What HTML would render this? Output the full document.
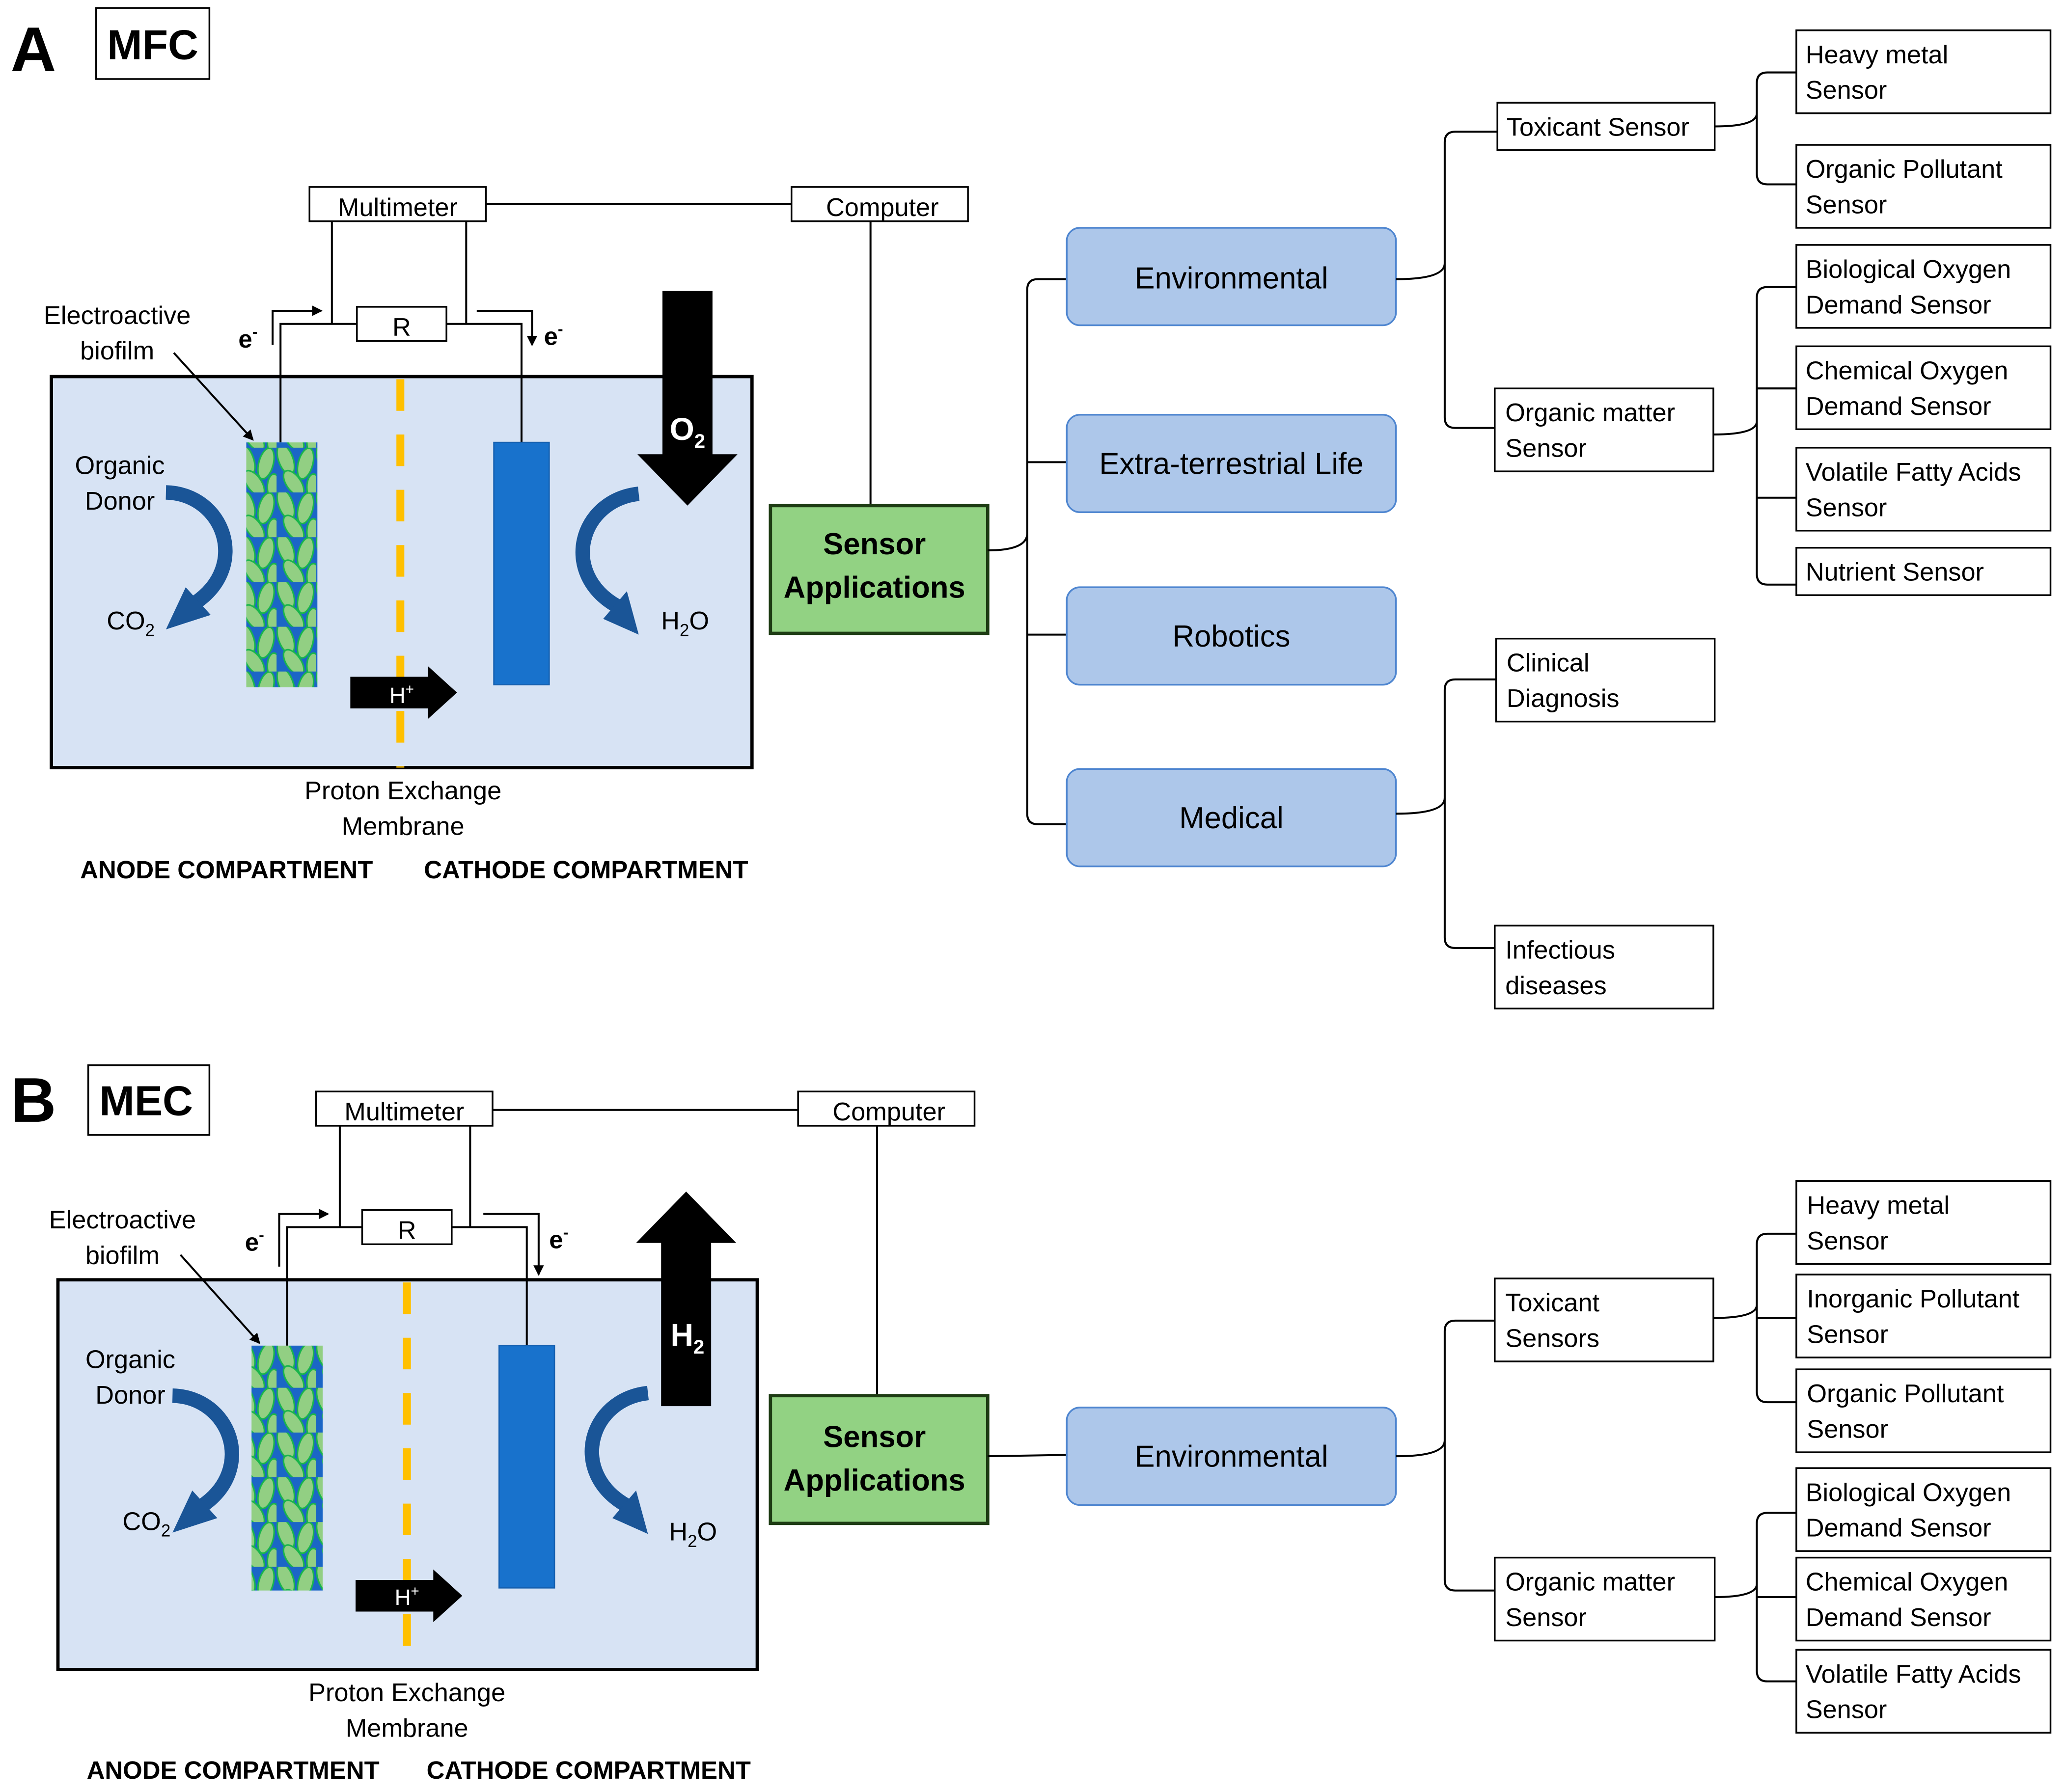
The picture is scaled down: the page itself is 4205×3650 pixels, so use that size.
<!DOCTYPE html>
<html><head><meta charset="utf-8"><style>
html,body{margin:0;padding:0;background:#fff}
svg{display:block}
text{font-family:"Liberation Sans",sans-serif;fill:#000}
.bx{fill:#fff;stroke:#000;stroke-width:1.3}
.ln{fill:none;stroke:#000;stroke-width:1.5}
.t{font-size:19.5px}
.bl{fill:#adc7ea;stroke:#4f86d0;stroke-width:1.3}
</style></head><body>
<svg width="4205" height="3650" viewBox="0 0 1568 1361" xmlns="http://www.w3.org/2000/svg">
<defs>
<pattern id="bio" width="30" height="34" patternUnits="userSpaceOnUse">
<rect width="30" height="34" fill="#1b66c6"/>
<ellipse cx="7" cy="9" rx="5.5" ry="12" transform="rotate(-20 7 9)" fill="#92cf83" stroke="#19b54b" stroke-width="1.2"/>
<ellipse cx="22" cy="12" rx="5.5" ry="12" transform="rotate(15 22 12)" fill="#92cf83" stroke="#19b54b" stroke-width="1.2"/>
<ellipse cx="13" cy="27" rx="5.5" ry="11" transform="rotate(-35 13 27)" fill="#92cf83" stroke="#19b54b" stroke-width="1.2"/>
<ellipse cx="28" cy="30" rx="5" ry="10" fill="#92cf83" stroke="#19b54b" stroke-width="1.2"/>
</pattern>
<marker id="ah" markerWidth="8" markerHeight="8" refX="7" refY="4" orient="auto" markerUnits="userSpaceOnUse"><path d="M0,0 L8,4 L0,8z" fill="#000"/></marker>
</defs>

<!-- ============ PART A ============ -->
<text x="8" y="54" font-size="48" font-weight="bold">A</text>
<rect x="73" y="6" width="86" height="54" class="bx"/>
<text x="116" y="45" font-size="32" font-weight="bold" text-anchor="middle">MFC</text>

<line x1="369" y1="155" x2="601" y2="155" class="ln" stroke-width="2.5"/>
<line x1="661" y1="168" x2="661" y2="384" class="ln" stroke-width="2.5"/>
<rect x="235" y="142" width="134" height="26" class="bx" stroke-width="2.5"/>
<text x="302" y="164" class="t" text-anchor="middle">Multimeter</text>
<rect x="601" y="142" width="134" height="26" class="bx" stroke-width="2.5"/>
<text x="670" y="164" class="t" text-anchor="middle">Computer</text>

<rect x="39" y="286" width="532" height="297" fill="#d7e3f4" stroke="#000" stroke-width="2.5"/>
<line x1="304" y1="288" x2="304" y2="583" stroke="#ffc000" stroke-width="6" stroke-dasharray="24,18"/>
<polyline points="252,168 252,246" class="ln" stroke-width="2.5"/>
<polyline points="354,168 354,246" class="ln" stroke-width="2.5"/>
<polyline points="213,336 213,246 396,246 396,336" class="ln" stroke-width="2.5"/>
<rect x="271" y="233" width="68" height="26" class="bx" stroke-width="2.5"/>
<text x="305" y="255" class="t" text-anchor="middle">R</text>
<polyline points="207,262 207,236 244,236" class="ln" stroke-width="1" marker-end="url(#ah)"/>
<polyline points="362,236 404,236 404,262" class="ln" stroke-width="1" marker-end="url(#ah)"/>
<text x="181" y="264" font-size="19" font-weight="bold">e<tspan font-size="12" dy="-8">-</tspan></text>
<text x="413" y="262" font-size="19" font-weight="bold">e<tspan font-size="12" dy="-8">-</tspan></text>

<rect x="187" y="336" width="54" height="186" fill="url(#bio)"/>
<rect x="375" y="336" width="42" height="184" fill="#1872cc" stroke="#1560b0"/>
<polygon points="503,221 541,221 541,345 560,345 522,384 484,345 503,345" fill="#000"/>
<text x="522" y="334" font-size="24" font-weight="bold" style="fill:#fff" text-anchor="middle">O<tspan font-size="15" dy="6">2</tspan></text>
<polygon points="266,514 325,514 325,506 347,526 325,546 325,538 266,538" fill="#000"/>
<text x="305" y="534" font-size="17" style="fill:#fff" text-anchor="middle">H<tspan font-size="11" dy="-7">+</tspan></text>

<path d="M126,374 C170,375 190,430 148,458" fill="none" stroke="#1a5597" stroke-width="11"/>
<polygon points="141,446 160,467 126,478" fill="#1a5597"/>
<path d="M485,375 C440,380 425,435 468,460" fill="none" stroke="#1a5597" stroke-width="11"/>
<polygon points="458,470 476,449 485,482" fill="#1a5597"/>

<text x="89" y="246" class="t" text-anchor="middle">Electroactive</text>
<text x="89" y="273" class="t" text-anchor="middle">biofilm</text>
<line x1="132" y1="268" x2="192" y2="334" class="ln" stroke-width="1" marker-end="url(#ah)"/>
<text x="91" y="360" class="t" text-anchor="middle">Organic</text>
<text x="91" y="387" class="t" text-anchor="middle">Donor</text>
<text x="81" y="478" class="t">CO<tspan font-size="13" dy="5">2</tspan></text>
<text x="502" y="478" class="t">H<tspan font-size="13" dy="5">2</tspan><tspan dy="-5">O</tspan></text>
<text x="306" y="607" class="t" text-anchor="middle">Proton Exchange</text>
<text x="306" y="634" class="t" text-anchor="middle">Membrane</text>
<text x="172" y="667" font-size="19" font-weight="bold" text-anchor="middle">ANODE COMPARTMENT</text>
<text x="445" y="667" font-size="19" font-weight="bold" text-anchor="middle">CATHODE COMPARTMENT</text>

<rect x="585" y="384" width="165" height="97" fill="#92d283" stroke="#1e3c14" stroke-width="2.5"/>
<text x="664" y="421" font-size="23" font-weight="bold" text-anchor="middle">Sensor</text>
<text x="664" y="454" font-size="23" font-weight="bold" text-anchor="middle">Applications</text>

<path d="M750,418 Q780,418 780,405 M810,212 L788,212 Q780,212 780,220 L780,618 Q780,626 788,626 L810,626 M780,351 L810,351 M780,482 L810,482" class="ln"/>

<rect x="810" y="173" width="250" height="74" rx="10" class="bl"/>
<text x="935" y="219" font-size="23" text-anchor="middle">Environmental</text>
<rect x="810" y="315" width="250" height="74" rx="10" class="bl"/>
<text x="935" y="360" font-size="23" text-anchor="middle">Extra-terrestrial Life</text>
<rect x="810" y="446" width="250" height="74" rx="10" class="bl"/>
<text x="935" y="491" font-size="23" text-anchor="middle">Robotics</text>
<rect x="810" y="584" width="250" height="74" rx="10" class="bl"/>
<text x="935" y="629" font-size="23" text-anchor="middle">Medical</text>

<path d="M1060,212 Q1097,212 1097,200 M1137,100 L1105,100 Q1097,100 1097,108 L1097,317 Q1097,325 1105,325 L1135,325" class="ln"/>
<path d="M1060,618 Q1097,618 1097,606 M1136,516 L1105,516 Q1097,516 1097,524 L1097,712 Q1097,720 1105,720 L1135,720" class="ln"/>
<path d="M1302,96 Q1334,96 1334,86 M1364,55 L1342,55 Q1334,55 1334,63 L1334,132 Q1334,140 1342,140 L1364,140" class="ln"/>
<path d="M1301,330 Q1334,330 1334,320 M1364,218 L1342,218 Q1334,218 1334,226 L1334,436 Q1334,444 1342,444 L1364,444 M1334,295 L1364,295 M1334,378 L1364,378" class="ln"/>

<rect x="1137" y="78" width="165" height="36" class="bx"/><text x="1144" y="103" class="t">Toxicant Sensor</text>
<rect x="1135" y="295" width="166" height="63" class="bx"/><text x="1143" y="320" class="t">Organic matter</text><text x="1143" y="347" class="t">Sensor</text>
<rect x="1136" y="485" width="166" height="63" class="bx"/><text x="1144" y="510" class="t">Clinical</text><text x="1144" y="537" class="t">Diagnosis</text>
<rect x="1135" y="703" width="166" height="63" class="bx"/><text x="1143" y="728" class="t">Infectious</text><text x="1143" y="755" class="t">diseases</text>

<rect x="1364" y="23" width="193" height="63" class="bx"/><text x="1371" y="48" class="t">Heavy metal</text><text x="1371" y="75" class="t">Sensor</text>
<rect x="1364" y="110" width="193" height="63" class="bx"/><text x="1371" y="135" class="t">Organic Pollutant</text><text x="1371" y="162" class="t">Sensor</text>
<rect x="1364" y="186" width="193" height="63" class="bx"/><text x="1371" y="211" class="t">Biological Oxygen</text><text x="1371" y="238" class="t">Demand Sensor</text>
<rect x="1364" y="263" width="193" height="63" class="bx"/><text x="1371" y="288" class="t">Chemical Oxygen</text><text x="1371" y="315" class="t">Demand Sensor</text>
<rect x="1364" y="340" width="193" height="63" class="bx"/><text x="1371" y="365" class="t">Volatile Fatty Acids</text><text x="1371" y="392" class="t">Sensor</text>
<rect x="1364" y="416" width="193" height="36" class="bx"/><text x="1371" y="441" class="t">Nutrient Sensor</text>

<!-- ============ PART B ============ -->
<text x="8" y="852" font-size="48" font-weight="bold">B</text>
<rect x="67" y="809" width="92" height="53" class="bx"/>
<text x="111" y="847" font-size="32" font-weight="bold" text-anchor="middle">MEC</text>

<line x1="374" y1="843" x2="606" y2="843" class="ln" stroke-width="2.5"/>
<line x1="666" y1="855" x2="666" y2="1060" class="ln" stroke-width="2.5"/>
<rect x="240" y="829" width="134" height="26" class="bx" stroke-width="2.5"/>
<text x="307" y="851" class="t" text-anchor="middle">Multimeter</text>
<rect x="606" y="829" width="134" height="26" class="bx" stroke-width="2.5"/>
<text x="675" y="851" class="t" text-anchor="middle">Computer</text>

<rect x="44" y="972" width="531" height="296" fill="#d7e3f4" stroke="#000" stroke-width="2.5"/>
<line x1="309" y1="974" x2="309" y2="1268" stroke="#ffc000" stroke-width="6" stroke-dasharray="24,18"/>
<polyline points="258,855 258,932" class="ln" stroke-width="2.5"/>
<polyline points="357,855 357,932" class="ln" stroke-width="2.5"/>
<polyline points="218,1022 218,932 400,932 400,1022" class="ln" stroke-width="2.5"/>
<rect x="275" y="919" width="68" height="26" class="bx" stroke-width="2.5"/>
<text x="309" y="941" class="t" text-anchor="middle">R</text>
<polyline points="212,962 212,922 249,922" class="ln" stroke-width="1" marker-end="url(#ah)"/>
<polyline points="367,922 409,922 409,968" class="ln" stroke-width="1" marker-end="url(#ah)"/>
<text x="186" y="950" font-size="19" font-weight="bold">e<tspan font-size="12" dy="-8">-</tspan></text>
<text x="417" y="948" font-size="19" font-weight="bold">e<tspan font-size="12" dy="-8">-</tspan></text>

<rect x="191" y="1022" width="54" height="186" fill="url(#bio)"/>
<rect x="379" y="1022" width="42" height="184" fill="#1872cc" stroke="#1560b0"/>
<polygon points="502,1068 540,1068 540,944 559,944 521,905 483,944 502,944" fill="#000"/>
<text x="522" y="1022" font-size="24" font-weight="bold" style="fill:#fff" text-anchor="middle">H<tspan font-size="15" dy="6">2</tspan></text>
<polygon points="270,1200 329,1200 329,1192 351,1212 329,1232 329,1224 270,1224" fill="#000"/>
<text x="309" y="1219" font-size="17" style="fill:#fff" text-anchor="middle">H<tspan font-size="11" dy="-7">+</tspan></text>

<path d="M131,1060 C175,1061 195,1116 153,1144" fill="none" stroke="#1a5597" stroke-width="11"/>
<polygon points="146,1132 165,1153 131,1164" fill="#1a5597"/>
<path d="M492,1058 C447,1063 432,1118 475,1143" fill="none" stroke="#1a5597" stroke-width="11"/>
<polygon points="465,1153 483,1132 492,1165" fill="#1a5597"/>

<text x="93" y="933" class="t" text-anchor="middle">Electroactive</text>
<text x="93" y="960" class="t" text-anchor="middle">biofilm</text>
<line x1="137" y1="953" x2="197" y2="1020" class="ln" stroke-width="1" marker-end="url(#ah)"/>
<text x="99" y="1039" class="t" text-anchor="middle">Organic</text>
<text x="99" y="1066" class="t" text-anchor="middle">Donor</text>
<text x="93" y="1162" class="t">CO<tspan font-size="13" dy="5">2</tspan></text>
<text x="508" y="1170" class="t">H<tspan font-size="13" dy="5">2</tspan><tspan dy="-5">O</tspan></text>
<text x="309" y="1292" class="t" text-anchor="middle">Proton Exchange</text>
<text x="309" y="1319" class="t" text-anchor="middle">Membrane</text>
<text x="177" y="1351" font-size="19" font-weight="bold" text-anchor="middle">ANODE COMPARTMENT</text>
<text x="447" y="1351" font-size="19" font-weight="bold" text-anchor="middle">CATHODE COMPARTMENT</text>

<rect x="585" y="1060" width="165" height="97" fill="#92d283" stroke="#1e3c14" stroke-width="2.5"/>
<text x="664" y="1099" font-size="23" font-weight="bold" text-anchor="middle">Sensor</text>
<text x="664" y="1132" font-size="23" font-weight="bold" text-anchor="middle">Applications</text>
<line x1="750" y1="1106" x2="810" y2="1105" class="ln"/>

<rect x="810" y="1069" width="250" height="74" rx="10" class="bl"/>
<text x="935" y="1114" font-size="23" text-anchor="middle">Environmental</text>

<path d="M1060,1106 Q1097,1106 1097,1094 M1135,1003 L1105,1003 Q1097,1003 1097,1011 L1097,1200 Q1097,1208 1105,1208 L1135,1208" class="ln"/>
<path d="M1301,1001 Q1334,1001 1334,991 M1364,937 L1342,937 Q1334,937 1334,945 L1334,1057 Q1334,1065 1342,1065 L1364,1065 M1334,1001 L1364,1001" class="ln"/>
<path d="M1302,1213 Q1334,1213 1334,1203 M1364,1149 L1342,1149 Q1334,1149 1334,1157 L1334,1269 Q1334,1277 1342,1277 L1364,1277 M1334,1213 L1364,1213" class="ln"/>

<rect x="1135" y="971" width="166" height="63" class="bx"/><text x="1143" y="996" class="t">Toxicant</text><text x="1143" y="1023" class="t">Sensors</text>
<rect x="1135" y="1183" width="167" height="63" class="bx"/><text x="1143" y="1208" class="t">Organic matter</text><text x="1143" y="1235" class="t">Sensor</text>

<rect x="1364" y="897" width="193" height="63" class="bx"/><text x="1372" y="922" class="t">Heavy metal</text><text x="1372" y="949" class="t">Sensor</text>
<rect x="1364" y="968" width="193" height="63" class="bx"/><text x="1372" y="993" class="t">Inorganic Pollutant</text><text x="1372" y="1020" class="t">Sensor</text>
<rect x="1364" y="1040" width="193" height="63" class="bx"/><text x="1372" y="1065" class="t">Organic Pollutant</text><text x="1372" y="1092" class="t">Sensor</text>
<rect x="1364" y="1115" width="193" height="63" class="bx"/><text x="1371" y="1140" class="t">Biological Oxygen</text><text x="1371" y="1167" class="t">Demand Sensor</text>
<rect x="1364" y="1183" width="193" height="63" class="bx"/><text x="1371" y="1208" class="t">Chemical Oxygen</text><text x="1371" y="1235" class="t">Demand Sensor</text>
<rect x="1364" y="1253" width="193" height="63" class="bx"/><text x="1371" y="1278" class="t">Volatile Fatty Acids</text><text x="1371" y="1305" class="t">Sensor</text>
</svg>
</body></html>
